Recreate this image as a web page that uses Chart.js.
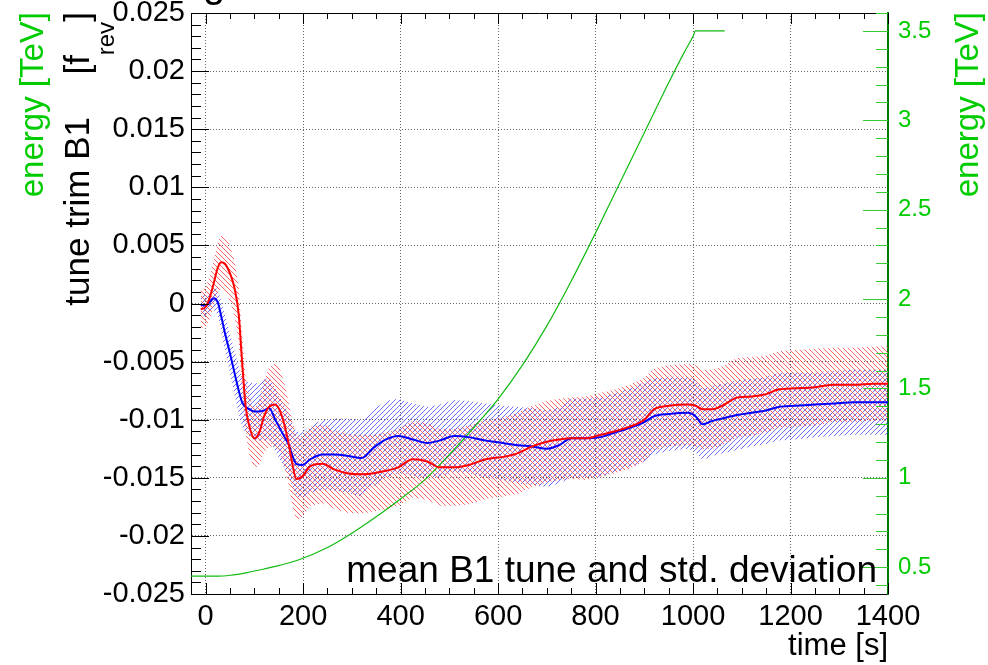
<!DOCTYPE html>
<html><head><meta charset="utf-8">
<script src="https://cdn.jsdelivr.net/npm/chart.js@4/dist/chart.umd.min.js"></script>
<style>html,body{margin:0;padding:0;background:#fff;overflow:hidden}canvas{display:block}</style>
</head><body>
<canvas id="c" width="988" height="665"></canvas>
<script>
const FONT = "'Liberation Sans', Arial, Helvetica, sans-serif";

// time [s] of the tune samples
const time = [-10, 0, 10, 17, 25, 32, 40, 50, 60, 68, 75, 82, 90, 100, 110, 120, 130, 143, 153, 162, 170, 178, 186, 198, 215, 240, 265, 290, 320, 345, 370, 395, 425, 455, 480, 510, 540, 575, 610, 640, 670, 700, 725, 750, 780, 810, 840, 870, 900, 920, 950, 990, 1005, 1020, 1040, 1060, 1090, 1120, 1150, 1175, 1210, 1250, 1290, 1330, 1370, 1400];

const redMean = [-0.0005, -0.0003, 0.0007, 0.0018, 0.0031, 0.00356, 0.0034, 0.0026, 0.0012, -0.0010, -0.0051, -0.0088, -0.0106, -0.0116, -0.0111, -0.0097, -0.0089, -0.0087, -0.0093, -0.0105, -0.0120, -0.0138, -0.0151, -0.0149, -0.0140, -0.0138, -0.0143, -0.0146, -0.0147, -0.0146, -0.0144, -0.0141, -0.0134, -0.0136, -0.0141, -0.0141, -0.0139, -0.0134, -0.0132, -0.0129, -0.0123, -0.0119, -0.0117, -0.0116, -0.0116, -0.0113, -0.0110, -0.0106, -0.0100, -0.0091, -0.0088, -0.0087, -0.0088, -0.0091, -0.0091, -0.0088, -0.0081, -0.0080, -0.0078, -0.0074, -0.0073, -0.0072, -0.0070, -0.0070, -0.0069, -0.0069];

const redSd = [0.0016, 0.0017, 0.0019, 0.0020, 0.0022, 0.0023, 0.0024, 0.0024, 0.0024, 0.0024, 0.0024, 0.0024, 0.0025, 0.0026, 0.0028, 0.0031, 0.0034, 0.0036, 0.0036, 0.0036, 0.0036, 0.0036, 0.0036, 0.0035, 0.0034, 0.0034, 0.0034, 0.0034, 0.0034, 0.0033, 0.0033, 0.0033, 0.0033, 0.0033, 0.0033, 0.0033, 0.0034, 0.0034, 0.0034, 0.0035, 0.0035, 0.0035, 0.0035, 0.0035, 0.0036, 0.0036, 0.0036, 0.0036, 0.0036, 0.0035, 0.0035, 0.0035, 0.0035, 0.0034, 0.0034, 0.0034, 0.0034, 0.0034, 0.0033, 0.0033, 0.0033, 0.0033, 0.0032, 0.0032, 0.0032, 0.0032];

const blueMean = [-0.0001, -0.0002, 0.0002, 0.00046, 0.0001, -0.0011, -0.0026, -0.0043, -0.0061, -0.0075, -0.0085, -0.0089, -0.0091, -0.0093, -0.0093, -0.0092, -0.0090, -0.0100, -0.0108, -0.0115, -0.0121, -0.0131, -0.0138, -0.0139, -0.0134, -0.0130, -0.0130, -0.0131, -0.0133, -0.0124, -0.0117, -0.0114, -0.0117, -0.0120, -0.0118, -0.0114, -0.0115, -0.0118, -0.0120, -0.0122, -0.0123, -0.0125, -0.0122, -0.0116, -0.0116, -0.0115, -0.0111, -0.0107, -0.0102, -0.0097, -0.0095, -0.0094, -0.0097, -0.0104, -0.0101, -0.0099, -0.0096, -0.0094, -0.0092, -0.0089, -0.0088, -0.0087, -0.0086, -0.0085, -0.0085, -0.0085];

const blueSd = [0.0009, 0.0009, 0.0009, 0.0010, 0.0011, 0.0013, 0.0015, 0.0017, 0.0019, 0.0020, 0.0021, 0.0022, 0.0023, 0.0024, 0.0025, 0.0026, 0.0027, 0.0027, 0.0027, 0.0027, 0.0027, 0.0027, 0.0028, 0.0028, 0.0029, 0.0030, 0.0031, 0.0032, 0.0033, 0.0033, 0.0033, 0.0032, 0.0031, 0.0031, 0.0031, 0.0031, 0.0031, 0.0032, 0.0032, 0.0033, 0.0033, 0.0033, 0.0033, 0.0034, 0.0034, 0.0034, 0.0034, 0.0034, 0.0034, 0.0033, 0.0032, 0.0031, 0.0031, 0.0031, 0.0030, 0.0030, 0.0030, 0.0029, 0.0029, 0.0029, 0.0029, 0.0028, 0.0028, 0.0028, 0.0028, 0.0028];

// beam energy ramp [TeV]
const energyTime = [-30, 0, 25, 50, 85, 120, 152, 190, 250, 300, 336, 397, 450, 500, 550, 600, 650, 700, 750, 800, 850, 900, 950, 980, 1000, 1005, 1065];
const energy = [0.45, 0.45, 0.45, 0.455, 0.47, 0.49, 0.51, 0.54, 0.61, 0.69, 0.755, 0.876, 0.99, 1.13, 1.28, 1.44, 1.63, 1.85, 2.10, 2.37, 2.65, 2.93, 3.21, 3.37, 3.47, 3.5, 3.5];

// ticks
const xTicks = [0, 200, 400, 600, 800, 1000, 1200, 1400];
const xTickLabels = ['0', '200', '400', '600', '800', '1000', '1200', '1400'];
const yTicks = [-0.025, -0.02, -0.015, -0.01, -0.005, 0, 0.005, 0.01, 0.015, 0.02, 0.025];
const yTickLabels = ['-0.025', '-0.02', '-0.015', '-0.01', '-0.005', '0', '0.005', '0.01', '0.015', '0.02', '0.025'];
const eTicks = [0.5, 1, 1.5, 2, 2.5, 3, 3.5];
const eTickLabels = ['0.5', '1', '1.5', '2', '2.5', '3', '3.5'];

function hatch(color, dir) {
  const s = 5, c = document.createElement('canvas');
  c.width = s; c.height = s;
  const g = c.getContext('2d');
  g.strokeStyle = color; g.lineWidth = 1;
  g.beginPath();
  for (let k = -1; k <= 1; k++) {
    if (dir > 0) { g.moveTo(k * s, s); g.lineTo(k * s + s, 0); }
    else { g.moveTo(k * s, 0); g.lineTo(k * s + s, s); }
  }
  g.stroke();
  return g.createPattern(c, 'repeat');
}

const ctx0 = document.getElementById('c').getContext('2d');
const redPat = hatch('rgba(255,60,60,0.8)', -1);
const bluePat = hatch('rgba(60,60,255,0.75)', 1);

const pts = (xs, ys) => xs.map((t, i) => ({ x: t, y: ys[i] }));
const band = (m, s, sign) => time.map((t, i) => ({ x: t, y: m[i] + sign * s[i] }));

const noPad = s => { s.paddingTop = 0; s.paddingBottom = 0; s.paddingLeft = 0; s.paddingRight = 0; };

const deco = {
  id: 'deco',
  afterDraw(chart) {
    const ctx = chart.ctx, a = chart.chartArea;
    const sx = chart.scales.x, sy = chart.scales.y, s2 = chart.scales.y2;
    ctx.save();
    ctx.strokeStyle = '#000'; ctx.lineWidth = 1;
    ctx.beginPath(); ctx.moveTo(a.left, a.top + 0.5); ctx.lineTo(a.right, a.top + 0.5); ctx.stroke();
    ctx.beginPath();
    for (let v = 0; v <= 1400; v += 50) {
      const px = Math.round(sx.getPixelForValue(v)) + 0.5;
      const L = v % 200 === 0 ? 11 : 6;
      ctx.moveTo(px, a.bottom); ctx.lineTo(px, a.bottom - L);
      ctx.moveTo(px, a.top); ctx.lineTo(px, a.top + L);
    }
    for (let k = -25; k <= 25; k++) {
      const py = Math.round(sy.getPixelForValue(k / 1000)) + 0.5;
      const L = k % 5 === 0 ? 18 : 10;
      ctx.moveTo(a.left, py); ctx.lineTo(a.left + L, py);
    }
    ctx.stroke();
    ctx.strokeStyle = '#33cc33';
    ctx.beginPath();
    for (let k = 4; k <= 36; k++) {
      const py = Math.round(s2.getPixelForValue(k / 10)) + 0.5;
      const L = k % 5 === 0 ? 25 : 12;
      ctx.moveTo(a.right, py); ctx.lineTo(a.right - L, py);
    }
    ctx.stroke();

    function rot(text, x, y, size, color, align) {
      ctx.save(); ctx.translate(x, y); ctx.rotate(-Math.PI / 2);
      ctx.font = size + 'px ' + FONT; ctx.fillStyle = color;
      ctx.textAlign = align; ctx.textBaseline = 'alphabetic';
      ctx.fillText(text, 0, 0); ctx.restore();
    }
    const green = '#00cc00';
    rot('energy [TeV]', 43, 12, 33, green, 'right');
    rot('energy [TeV]', 978, 12, 33, green, 'right');
    rot('tune trim B1', 89, 117, 35, '#000', 'right');
    rot('[f', 89, 55, 35, '#000', 'right');
    rot('rev', 114, 22, 24, '#000', 'right');
    rot(']', 89, 12, 35, '#000', 'right');

    ctx.fillStyle = '#000'; ctx.textBaseline = 'alphabetic';
    ctx.font = '31px ' + FONT; ctx.textAlign = 'right';
    ctx.fillText('time [s]', a.right, 655);
    ctx.font = '37px ' + FONT;
    ctx.fillText('mean B1 tune and std. deviation', 877, 582);
    ctx.font = '40px ' + FONT; ctx.textAlign = 'left';
    ctx.fillText('g', 203, -3);
    ctx.restore();
  }
};

new Chart(ctx0, {
  type: 'line',
  data: {
    datasets: [
      { data: band(blueMean, blueSd, 1), yAxisID: 'y', borderWidth: 0, pointRadius: 0, fill: '+1', backgroundColor: bluePat, order: 20 },
      { data: band(blueMean, blueSd, -1), yAxisID: 'y', borderWidth: 0, pointRadius: 0, fill: false, order: 21 },
      { data: band(redMean, redSd, 1), yAxisID: 'y', borderWidth: 0, pointRadius: 0, fill: '+1', backgroundColor: redPat, order: 10 },
      { data: band(redMean, redSd, -1), yAxisID: 'y', borderWidth: 0, pointRadius: 0, fill: false, order: 11 },
      { data: pts(energyTime, energy), yAxisID: 'y2', borderColor: '#11bb11', borderWidth: 1.2, pointRadius: 0, fill: false, order: 5, cubicInterpolationMode: 'monotone' },
      { data: pts(time, blueMean), yAxisID: 'y', borderColor: '#0000ff', borderWidth: 2, pointRadius: 0, fill: false, order: 2, cubicInterpolationMode: 'monotone' },
      { data: pts(time, redMean), yAxisID: 'y', borderColor: '#ff0000', borderWidth: 2, pointRadius: 0, fill: false, order: 1, cubicInterpolationMode: 'monotone' }
    ]
  },
  options: {
    responsive: false, animation: false, devicePixelRatio: 1,
    layout: { padding: { top: 13, left: 0, right: 0, bottom: 0 } },
    plugins: { legend: { display: false }, tooltip: { enabled: false }, title: { display: false } },
    scales: {
      x: {
        type: 'linear', position: 'bottom', min: -30, max: 1400,
        afterBuildTicks: s => { s.ticks = xTicks.map(v => ({ value: v })); },
        afterFit: s => { s.height = 71; noPad(s); },
        ticks: { color: '#000', font: { family: FONT, size: 29 }, padding: 6, maxRotation: 0, autoSkip: false,
          callback: v => xTickLabels[xTicks.indexOf(v)] },
        grid: { color: '#666', lineWidth: 1, drawTicks: false },
        border: { display: true, color: '#000', width: 1, dash: [1, 2] }
      },
      y: {
        type: 'linear', position: 'left', min: -0.025, max: 0.025,
        afterBuildTicks: s => { s.ticks = yTicks.map(v => ({ value: v })); },
        afterFit: s => { s.width = 191; noPad(s); },
        ticks: { color: '#000', font: { family: FONT, size: 29 }, padding: 6, autoSkip: false,
          callback: v => yTickLabels[yTicks.findIndex(t => Math.abs(t - v) < 1e-9)] },
        grid: { color: '#666', lineWidth: 1, drawTicks: false },
        border: { display: true, color: '#000', width: 1, dash: [1, 2] }
      },
      y2: {
        type: 'linear', position: 'right', min: 0.35, max: 3.6,
        afterBuildTicks: s => { s.ticks = eTicks.map(v => ({ value: v })); },
        afterFit: s => { s.width = 100; noPad(s); },
        ticks: { color: '#00cc00', font: { family: FONT, size: 24 }, padding: 10, autoSkip: false,
          callback: v => eTickLabels[eTicks.findIndex(t => Math.abs(t - v) < 1e-9)] },
        grid: { drawOnChartArea: false, drawTicks: false },
        border: { display: true, color: '#007700', width: 2 }
      }
    }
  },
  plugins: [deco]
});
</script>
</body></html>
